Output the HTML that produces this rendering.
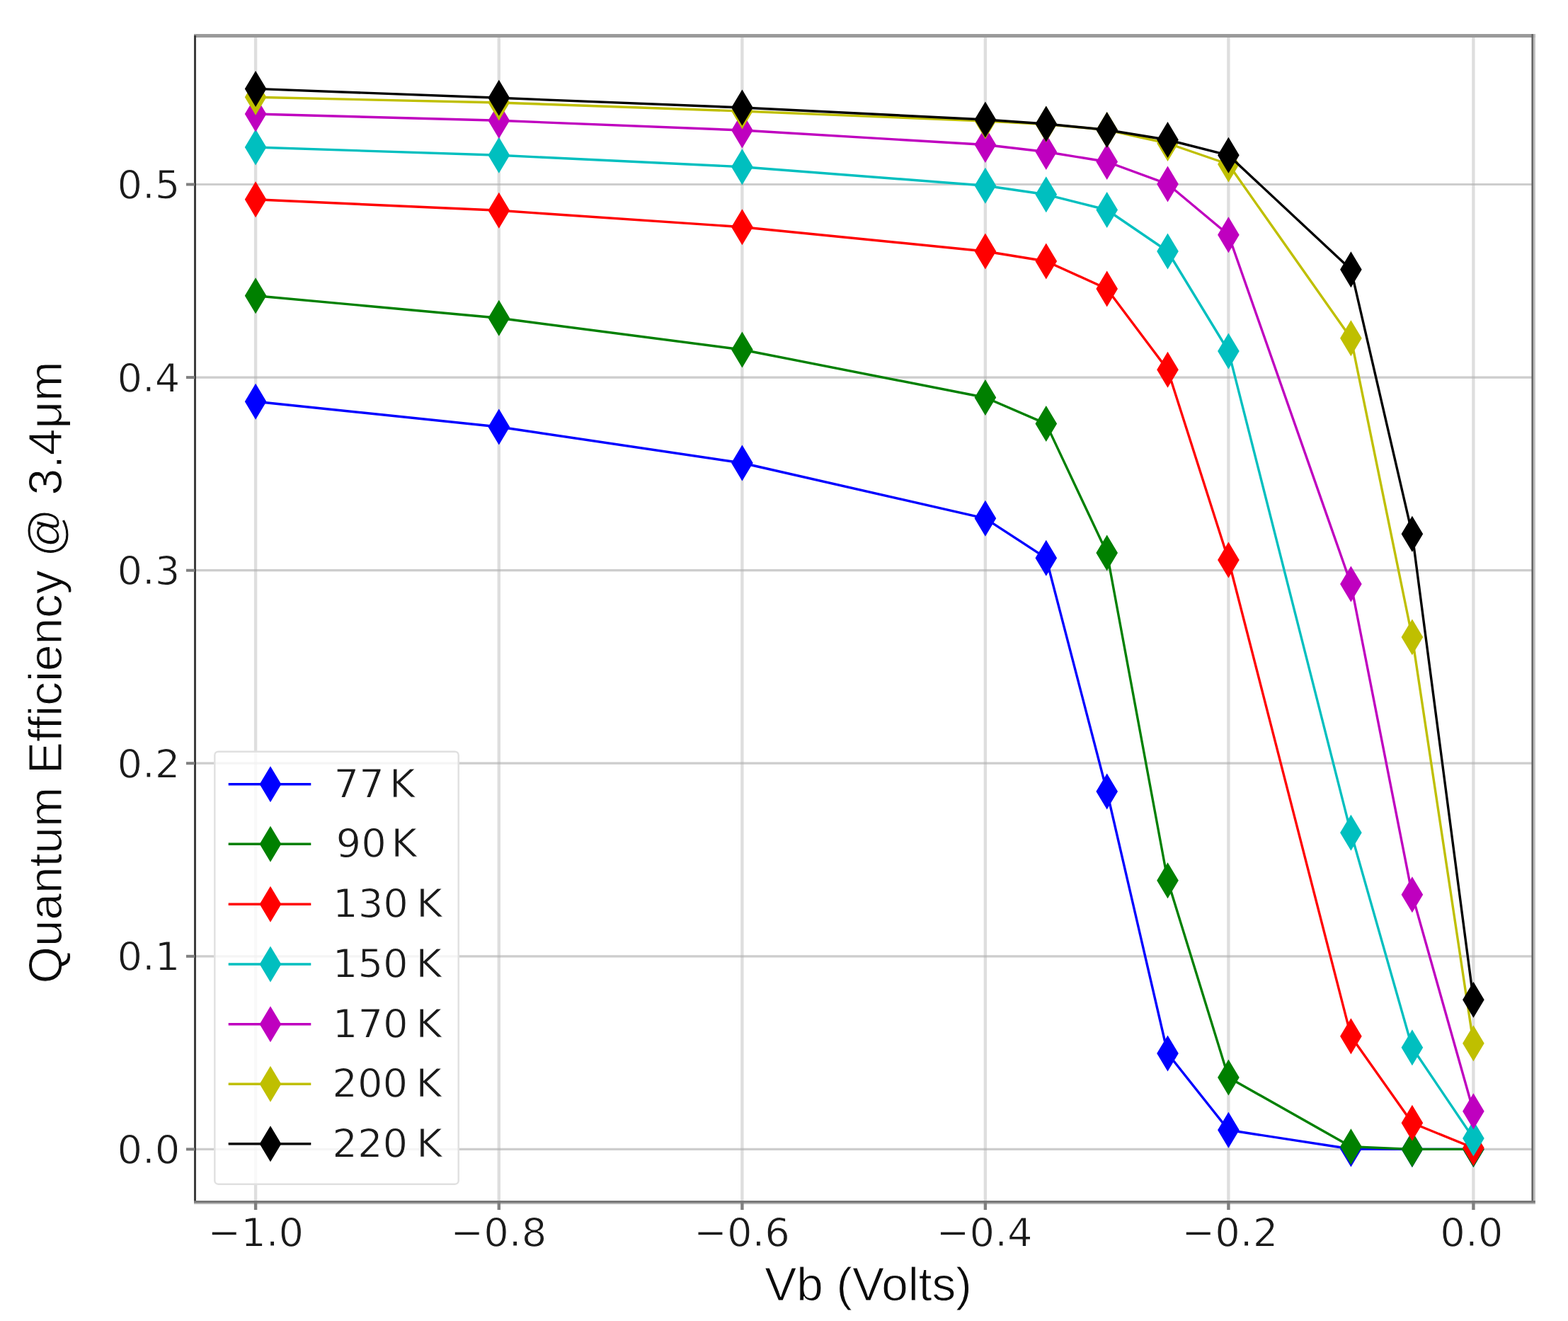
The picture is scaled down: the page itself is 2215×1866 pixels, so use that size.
<!DOCTYPE html>
<html><head><meta charset="utf-8"><title>Quantum Efficiency vs Vb</title>
<style>
html,body{margin:0;padding:0;background:#fff;}
body{width:2215px;height:1866px;overflow:hidden;}
svg{display:block;}
.tk{font-family:"DejaVu Sans","Liberation Sans",sans-serif;font-size:56px;fill:#1a1a1a;stroke:#fff;stroke-width:1px;stroke-linejoin:round;}
.lg{font-family:"DejaVu Sans","Liberation Sans",sans-serif;font-size:56px;fill:#1a1a1a;stroke:#fff;stroke-width:1px;stroke-linejoin:round;}
.al{font-family:"Liberation Sans","DejaVu Sans",sans-serif;font-size:67.5px;fill:#0a0a0a;stroke:#fff;stroke-width:1.0px;stroke-linejoin:round;}
</style></head><body>
<svg width="2215" height="1866" viewBox="0 0 2215 1866">
<rect x="0" y="0" width="2215" height="1866" fill="#fff"/>
<g>
<line x1="361.1" y1="50.4" x2="361.1" y2="1698.5" stroke="#b0b0b0" stroke-opacity="0.42" stroke-width="4.4"/>
<line x1="704.8" y1="50.4" x2="704.8" y2="1698.5" stroke="#b0b0b0" stroke-opacity="0.42" stroke-width="4.4"/>
<line x1="1048.4" y1="50.4" x2="1048.4" y2="1698.5" stroke="#b0b0b0" stroke-opacity="0.42" stroke-width="4.4"/>
<line x1="1391.9" y1="50.4" x2="1391.9" y2="1698.5" stroke="#b0b0b0" stroke-opacity="0.42" stroke-width="4.4"/>
<line x1="1735.4" y1="50.4" x2="1735.4" y2="1698.5" stroke="#b0b0b0" stroke-opacity="0.42" stroke-width="4.4"/>
<line x1="2081.4" y1="50.4" x2="2081.4" y2="1698.5" stroke="#b0b0b0" stroke-opacity="0.42" stroke-width="4.4"/>
<line x1="275.5" y1="1623.4" x2="2165.8" y2="1623.4" stroke="#b0b0b0" stroke-opacity="0.64" stroke-width="3.2"/>
<line x1="275.5" y1="1350.8" x2="2165.8" y2="1350.8" stroke="#b0b0b0" stroke-opacity="0.64" stroke-width="3.2"/>
<line x1="275.5" y1="1078.2" x2="2165.8" y2="1078.2" stroke="#b0b0b0" stroke-opacity="0.64" stroke-width="3.2"/>
<line x1="275.5" y1="805.7" x2="2165.8" y2="805.7" stroke="#b0b0b0" stroke-opacity="0.64" stroke-width="3.2"/>
<line x1="275.5" y1="533.1" x2="2165.8" y2="533.1" stroke="#b0b0b0" stroke-opacity="0.64" stroke-width="3.2"/>
<line x1="275.5" y1="260.5" x2="2165.8" y2="260.5" stroke="#b0b0b0" stroke-opacity="0.64" stroke-width="3.2"/>
<polyline points="361.1,567.2 704.8,603.0 1048.4,654.0 1391.9,732.3 1477.8,788.3 1563.7,1118.0 1649.5,1488.0 1735.4,1596.3 1908.4,1623.0 1994.9,1623.4 2081.4,1623.4" fill="none" stroke="#0000ff" stroke-width="3.4" stroke-linejoin="round"/>
<path d="M361.1 541.7L376.4 567.2L361.1 592.7L345.8 567.2Z" fill="#0000ff"/>
<path d="M704.8 577.5L720.1 603.0L704.8 628.5L689.5 603.0Z" fill="#0000ff"/>
<path d="M1048.4 628.5L1063.7 654.0L1048.4 679.5L1033.1 654.0Z" fill="#0000ff"/>
<path d="M1391.9 706.8L1407.2 732.3L1391.9 757.8L1376.6 732.3Z" fill="#0000ff"/>
<path d="M1477.8 762.8L1493.1 788.3L1477.8 813.8L1462.5 788.3Z" fill="#0000ff"/>
<path d="M1563.7 1092.5L1579.0 1118.0L1563.7 1143.5L1548.4 1118.0Z" fill="#0000ff"/>
<path d="M1649.5 1462.5L1664.8 1488.0L1649.5 1513.5L1634.2 1488.0Z" fill="#0000ff"/>
<path d="M1735.4 1570.8L1750.7 1596.3L1735.4 1621.8L1720.1 1596.3Z" fill="#0000ff"/>
<path d="M1908.4 1597.5L1923.7 1623.0L1908.4 1648.5L1893.1 1623.0Z" fill="#0000ff"/>
<path d="M1994.9 1597.9L2010.2 1623.4L1994.9 1648.9L1979.6 1623.4Z" fill="#0000ff"/>
<path d="M2081.4 1597.9L2096.7 1623.4L2081.4 1648.9L2066.1 1623.4Z" fill="#0000ff"/>
<polyline points="361.1,417.7 704.8,449.3 1048.4,494.0 1391.9,561.5 1477.8,598.6 1563.7,781.0 1649.5,1243.7 1735.4,1522.0 1908.4,1619.7 1994.9,1623.4 2081.4,1623.4" fill="none" stroke="#008000" stroke-width="3.4" stroke-linejoin="round"/>
<path d="M361.1 392.2L376.4 417.7L361.1 443.2L345.8 417.7Z" fill="#008000"/>
<path d="M704.8 423.8L720.1 449.3L704.8 474.8L689.5 449.3Z" fill="#008000"/>
<path d="M1048.4 468.5L1063.7 494.0L1048.4 519.5L1033.1 494.0Z" fill="#008000"/>
<path d="M1391.9 536.0L1407.2 561.5L1391.9 587.0L1376.6 561.5Z" fill="#008000"/>
<path d="M1477.8 573.1L1493.1 598.6L1477.8 624.1L1462.5 598.6Z" fill="#008000"/>
<path d="M1563.7 755.5L1579.0 781.0L1563.7 806.5L1548.4 781.0Z" fill="#008000"/>
<path d="M1649.5 1218.2L1664.8 1243.7L1649.5 1269.2L1634.2 1243.7Z" fill="#008000"/>
<path d="M1735.4 1496.5L1750.7 1522.0L1735.4 1547.5L1720.1 1522.0Z" fill="#008000"/>
<path d="M1908.4 1594.2L1923.7 1619.7L1908.4 1645.2L1893.1 1619.7Z" fill="#008000"/>
<path d="M1994.9 1597.9L2010.2 1623.4L1994.9 1648.9L1979.6 1623.4Z" fill="#008000"/>
<path d="M2081.4 1597.9L2096.7 1623.4L2081.4 1648.9L2066.1 1623.4Z" fill="#008000"/>
<polyline points="361.1,281.8 704.8,297.3 1048.4,320.7 1391.9,355.0 1477.8,369.0 1563.7,408.0 1649.5,522.3 1735.4,791.0 1908.4,1463.7 1994.9,1586.3 2081.4,1621.5" fill="none" stroke="#ff0000" stroke-width="3.4" stroke-linejoin="round"/>
<path d="M361.1 256.3L376.4 281.8L361.1 307.3L345.8 281.8Z" fill="#ff0000"/>
<path d="M704.8 271.8L720.1 297.3L704.8 322.8L689.5 297.3Z" fill="#ff0000"/>
<path d="M1048.4 295.2L1063.7 320.7L1048.4 346.2L1033.1 320.7Z" fill="#ff0000"/>
<path d="M1391.9 329.5L1407.2 355.0L1391.9 380.5L1376.6 355.0Z" fill="#ff0000"/>
<path d="M1477.8 343.5L1493.1 369.0L1477.8 394.5L1462.5 369.0Z" fill="#ff0000"/>
<path d="M1563.7 382.5L1579.0 408.0L1563.7 433.5L1548.4 408.0Z" fill="#ff0000"/>
<path d="M1649.5 496.8L1664.8 522.3L1649.5 547.8L1634.2 522.3Z" fill="#ff0000"/>
<path d="M1735.4 765.5L1750.7 791.0L1735.4 816.5L1720.1 791.0Z" fill="#ff0000"/>
<path d="M1908.4 1438.2L1923.7 1463.7L1908.4 1489.2L1893.1 1463.7Z" fill="#ff0000"/>
<path d="M1994.9 1560.8L2010.2 1586.3L1994.9 1611.8L1979.6 1586.3Z" fill="#ff0000"/>
<path d="M2081.4 1596.0L2096.7 1621.5L2081.4 1647.0L2066.1 1621.5Z" fill="#ff0000"/>
<polyline points="361.1,208.0 704.8,219.3 1048.4,235.7 1391.9,262.2 1477.8,274.8 1563.7,296.5 1649.5,355.0 1735.4,496.0 1908.4,1176.3 1994.9,1479.7 2081.4,1608.0" fill="none" stroke="#00bfbf" stroke-width="3.4" stroke-linejoin="round"/>
<path d="M361.1 182.5L376.4 208.0L361.1 233.5L345.8 208.0Z" fill="#00bfbf"/>
<path d="M704.8 193.8L720.1 219.3L704.8 244.8L689.5 219.3Z" fill="#00bfbf"/>
<path d="M1048.4 210.2L1063.7 235.7L1048.4 261.2L1033.1 235.7Z" fill="#00bfbf"/>
<path d="M1391.9 236.7L1407.2 262.2L1391.9 287.7L1376.6 262.2Z" fill="#00bfbf"/>
<path d="M1477.8 249.3L1493.1 274.8L1477.8 300.3L1462.5 274.8Z" fill="#00bfbf"/>
<path d="M1563.7 271.0L1579.0 296.5L1563.7 322.0L1548.4 296.5Z" fill="#00bfbf"/>
<path d="M1649.5 329.5L1664.8 355.0L1649.5 380.5L1634.2 355.0Z" fill="#00bfbf"/>
<path d="M1735.4 470.5L1750.7 496.0L1735.4 521.5L1720.1 496.0Z" fill="#00bfbf"/>
<path d="M1908.4 1150.8L1923.7 1176.3L1908.4 1201.8L1893.1 1176.3Z" fill="#00bfbf"/>
<path d="M1994.9 1454.2L2010.2 1479.7L1994.9 1505.2L1979.6 1479.7Z" fill="#00bfbf"/>
<path d="M2081.4 1582.5L2096.7 1608.0L2081.4 1633.5L2066.1 1608.0Z" fill="#00bfbf"/>
<polyline points="361.1,161.0 704.8,170.3 1048.4,184.0 1391.9,204.5 1477.8,214.5 1563.7,228.5 1649.5,260.0 1735.4,331.7 1908.4,825.0 1994.9,1263.7 2081.4,1569.7" fill="none" stroke="#bf00bf" stroke-width="3.4" stroke-linejoin="round"/>
<path d="M361.1 135.5L376.4 161.0L361.1 186.5L345.8 161.0Z" fill="#bf00bf"/>
<path d="M704.8 144.8L720.1 170.3L704.8 195.8L689.5 170.3Z" fill="#bf00bf"/>
<path d="M1048.4 158.5L1063.7 184.0L1048.4 209.5L1033.1 184.0Z" fill="#bf00bf"/>
<path d="M1391.9 179.0L1407.2 204.5L1391.9 230.0L1376.6 204.5Z" fill="#bf00bf"/>
<path d="M1477.8 189.0L1493.1 214.5L1477.8 240.0L1462.5 214.5Z" fill="#bf00bf"/>
<path d="M1563.7 203.0L1579.0 228.5L1563.7 254.0L1548.4 228.5Z" fill="#bf00bf"/>
<path d="M1649.5 234.5L1664.8 260.0L1649.5 285.5L1634.2 260.0Z" fill="#bf00bf"/>
<path d="M1735.4 306.2L1750.7 331.7L1735.4 357.2L1720.1 331.7Z" fill="#bf00bf"/>
<path d="M1908.4 799.5L1923.7 825.0L1908.4 850.5L1893.1 825.0Z" fill="#bf00bf"/>
<path d="M1994.9 1238.2L2010.2 1263.7L1994.9 1289.2L1979.6 1263.7Z" fill="#bf00bf"/>
<path d="M2081.4 1544.2L2096.7 1569.7L2081.4 1595.2L2066.1 1569.7Z" fill="#bf00bf"/>
<polyline points="361.1,137.3 704.8,145.0 1048.4,157.0 1391.9,171.0 1477.8,175.5 1563.7,183.5 1649.5,202.5 1735.4,232.0 1908.4,477.7 1994.9,900.0 2081.4,1473.7" fill="none" stroke="#bfbf00" stroke-width="3.4" stroke-linejoin="round"/>
<path d="M361.1 111.8L376.4 137.3L361.1 162.8L345.8 137.3Z" fill="#bfbf00"/>
<path d="M704.8 119.5L720.1 145.0L704.8 170.5L689.5 145.0Z" fill="#bfbf00"/>
<path d="M1048.4 131.5L1063.7 157.0L1048.4 182.5L1033.1 157.0Z" fill="#bfbf00"/>
<path d="M1391.9 145.5L1407.2 171.0L1391.9 196.5L1376.6 171.0Z" fill="#bfbf00"/>
<path d="M1477.8 150.0L1493.1 175.5L1477.8 201.0L1462.5 175.5Z" fill="#bfbf00"/>
<path d="M1563.7 158.0L1579.0 183.5L1563.7 209.0L1548.4 183.5Z" fill="#bfbf00"/>
<path d="M1649.5 177.0L1664.8 202.5L1649.5 228.0L1634.2 202.5Z" fill="#bfbf00"/>
<path d="M1735.4 206.5L1750.7 232.0L1735.4 257.5L1720.1 232.0Z" fill="#bfbf00"/>
<path d="M1908.4 452.2L1923.7 477.7L1908.4 503.2L1893.1 477.7Z" fill="#bfbf00"/>
<path d="M1994.9 874.5L2010.2 900.0L1994.9 925.5L1979.6 900.0Z" fill="#bfbf00"/>
<path d="M2081.4 1448.2L2096.7 1473.7L2081.4 1499.2L2066.1 1473.7Z" fill="#bfbf00"/>
<polyline points="361.1,125.4 704.8,138.3 1048.4,152.0 1391.9,169.0 1477.8,175.0 1563.7,183.5 1649.5,197.5 1735.4,219.3 1908.4,380.7 1994.9,754.3 2081.4,1412.3" fill="none" stroke="#000000" stroke-width="3.4" stroke-linejoin="round"/>
<path d="M361.1 99.9L376.4 125.4L361.1 150.9L345.8 125.4Z" fill="#000000"/>
<path d="M704.8 112.8L720.1 138.3L704.8 163.8L689.5 138.3Z" fill="#000000"/>
<path d="M1048.4 126.5L1063.7 152.0L1048.4 177.5L1033.1 152.0Z" fill="#000000"/>
<path d="M1391.9 143.5L1407.2 169.0L1391.9 194.5L1376.6 169.0Z" fill="#000000"/>
<path d="M1477.8 149.5L1493.1 175.0L1477.8 200.5L1462.5 175.0Z" fill="#000000"/>
<path d="M1563.7 158.0L1579.0 183.5L1563.7 209.0L1548.4 183.5Z" fill="#000000"/>
<path d="M1649.5 172.0L1664.8 197.5L1649.5 223.0L1634.2 197.5Z" fill="#000000"/>
<path d="M1735.4 193.8L1750.7 219.3L1735.4 244.8L1720.1 219.3Z" fill="#000000"/>
<path d="M1908.4 355.2L1923.7 380.7L1908.4 406.2L1893.1 380.7Z" fill="#000000"/>
<path d="M1994.9 728.8L2010.2 754.3L1994.9 779.8L1979.6 754.3Z" fill="#000000"/>
<path d="M2081.4 1386.8L2096.7 1412.3L2081.4 1437.8L2066.1 1412.3Z" fill="#000000"/>
<rect x="274" y="48" width="1894.8000000000002" height="5" fill="#9a9a9a"/>
<rect x="274" y="50" width="3" height="1649" fill="#3c3c3c"/>
<rect x="2163.4" y="48" width="2.8" height="1653" fill="#666"/>
<rect x="2166.2" y="48" width="2.6" height="1653" fill="#bbb"/>
<rect x="274" y="1696" width="1894.8000000000002" height="3" fill="#777"/>
<rect x="274" y="1699" width="1894.8000000000002" height="2" fill="#b5b5b5"/>
<rect x="358.9" y="1699" width="4.4" height="10" fill="#808080"/>
<rect x="702.6" y="1699" width="4.4" height="10" fill="#808080"/>
<rect x="1046.2" y="1699" width="4.4" height="10" fill="#808080"/>
<rect x="1389.7" y="1699" width="4.4" height="10" fill="#808080"/>
<rect x="1733.2" y="1699" width="4.4" height="10" fill="#808080"/>
<rect x="2079.2" y="1699" width="4.4" height="10" fill="#808080"/>
<rect x="263" y="1621.4" width="12" height="4" fill="#808080"/>
<rect x="263" y="1348.8" width="12" height="4" fill="#808080"/>
<rect x="263" y="1076.2" width="12" height="4" fill="#808080"/>
<rect x="263" y="803.7" width="12" height="4" fill="#808080"/>
<rect x="263" y="531.1" width="12" height="4" fill="#808080"/>
<rect x="263" y="258.5" width="12" height="4" fill="#808080"/>
<text class="tk" x="361.2" y="1759.5" text-anchor="middle">−1.0</text>
<text class="tk" x="704.3" y="1759.5" text-anchor="middle">−0.8</text>
<text class="tk" x="1048.0" y="1759.5" text-anchor="middle">−0.6</text>
<text class="tk" x="1390.6" y="1759.5" text-anchor="middle">−0.4</text>
<text class="tk" x="1737.3" y="1759.5" text-anchor="middle">−0.2</text>
<text class="tk" x="2078.9" y="1759.5" text-anchor="middle">0.0</text>
<text class="tk" x="254.5" y="1642.9" text-anchor="end">0.0</text>
<text class="tk" x="254.5" y="1370.3" text-anchor="end">0.1</text>
<text class="tk" x="254.5" y="1097.7" text-anchor="end">0.2</text>
<text class="tk" x="254.5" y="825.2" text-anchor="end">0.3</text>
<text class="tk" x="254.5" y="552.6" text-anchor="end">0.4</text>
<text class="tk" x="254.5" y="280.0" text-anchor="end">0.5</text>
<rect x="303.3" y="1061.7" width="344.40000000000003" height="611.0" rx="5" ry="5" fill="#fff" fill-opacity="0.8" stroke="#e0e0e0" stroke-width="2.4"/>
<line x1="322.7" y1="1107.7" x2="439.3" y2="1107.7" stroke="#0000ff" stroke-width="3.4"/>
<path d="M382.0 1082.2L397.3 1107.7L382.0 1133.2L366.7 1107.7Z" fill="#0000ff"/>
<text class="lg" x="471.6" y="1125.7">77<tspan x="549.9">K</tspan></text>
<line x1="322.7" y1="1192.3" x2="439.3" y2="1192.3" stroke="#008000" stroke-width="3.4"/>
<path d="M382.0 1166.8L397.3 1192.3L382.0 1217.8L366.7 1192.3Z" fill="#008000"/>
<text class="lg" x="474.5" y="1210.3">90<tspan x="552.4">K</tspan></text>
<line x1="322.7" y1="1277.3" x2="439.3" y2="1277.3" stroke="#ff0000" stroke-width="3.4"/>
<path d="M382.0 1251.8L397.3 1277.3L382.0 1302.8L366.7 1277.3Z" fill="#ff0000"/>
<text class="lg" x="470.0" y="1295.3">130<tspan x="588.2">K</tspan></text>
<line x1="322.7" y1="1362.0" x2="439.3" y2="1362.0" stroke="#00bfbf" stroke-width="3.4"/>
<path d="M382.0 1336.5L397.3 1362.0L382.0 1387.5L366.7 1362.0Z" fill="#00bfbf"/>
<text class="lg" x="469.8" y="1380.0">150<tspan x="587.4">K</tspan></text>
<line x1="322.7" y1="1446.7" x2="439.3" y2="1446.7" stroke="#bf00bf" stroke-width="3.4"/>
<path d="M382.0 1421.2L397.3 1446.7L382.0 1472.2L366.7 1446.7Z" fill="#bf00bf"/>
<text class="lg" x="469.8" y="1464.7">170<tspan x="587.4">K</tspan></text>
<line x1="322.7" y1="1531.3" x2="439.3" y2="1531.3" stroke="#bfbf00" stroke-width="3.4"/>
<path d="M382.0 1505.8L397.3 1531.3L382.0 1556.8L366.7 1531.3Z" fill="#bfbf00"/>
<text class="lg" x="469.3" y="1549.3">200<tspan x="587.4">K</tspan></text>
<line x1="322.7" y1="1615.7" x2="439.3" y2="1615.7" stroke="#000000" stroke-width="3.4"/>
<path d="M382.0 1590.2L397.3 1615.7L382.0 1641.2L366.7 1615.7Z" fill="#000000"/>
<text class="lg" x="469.3" y="1633.7">220<tspan x="588.3">K</tspan></text>
<text class="al" x="1226.5" y="1837.2" text-anchor="middle">Vb (Volts)</text>
<text class="al" transform="translate(87.4 950) rotate(-90)" x="0" y="0" text-anchor="middle">Quantum Efficiency @ 3.4μm</text>
</g></svg></body></html>
